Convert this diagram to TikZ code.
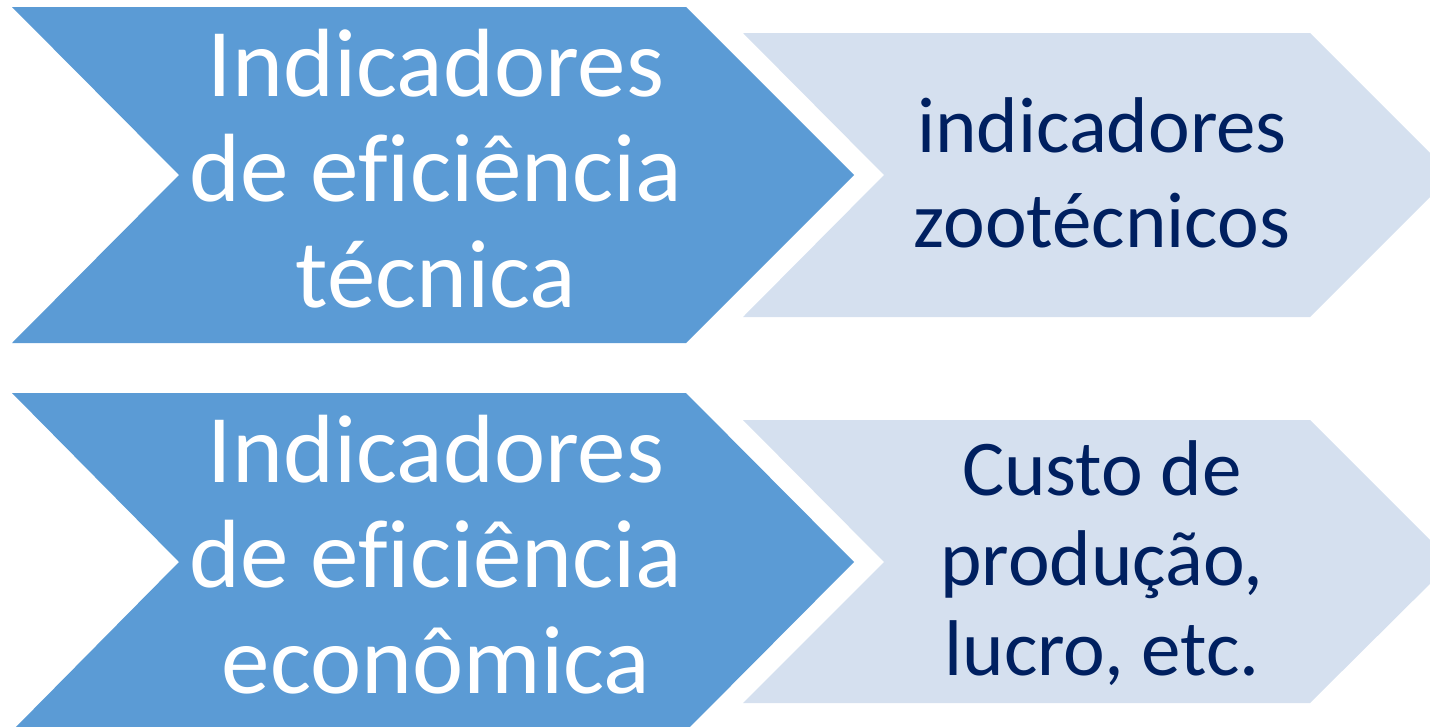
\documentclass[tikz,border=0pt]{standalone}
\usepackage{fontspec}
\setmainfont{Carlito}[Ligatures=NoCommon]
\definecolor{chevblue}{HTML}{5B9BD5}
\definecolor{chevlight}{HTML}{D5E0EF}
\definecolor{textnavy}{HTML}{002060}
\tikzset{
  bluechev/.style={fill=chevblue},
  lightchev/.style={fill=chevlight},
  bluetext/.style={text=white, align=center, inner sep=0pt, anchor=base, font=\fontsize{97}{105.5}\selectfont},
  navytext/.style={text=textnavy, align=center, inner sep=0pt, anchor=base, font=\fontsize{79}{95}\selectfont},
}
\begin{document}
\begin{tikzpicture}[x=1pt,y=-1pt]
\useasboundingbox (0,0) rectangle (1430,726);
\clip (0,0) rectangle (1430,726);
% row 1
\fill[bluechev] (12,7) -- (686,7) -- (854,175) -- (686,343) -- (12,343) -- (179,175) -- cycle;
\fill[lightchev] (743,33) -- (1310,33) -- (1452,175) -- (1310,317) -- (743,317) -- (884,175) -- cycle;
% row 2
\fill[bluechev] (12,393) -- (686,393) -- (854,562) -- (686,731) -- (12,731) -- (179,562) -- cycle;
\fill[lightchev] (743,420) -- (1310,420) -- (1452,562) -- (1310,703) -- (743,703) -- (884,562) -- cycle;
% texts (base anchor = baseline of last line)
\node[bluetext] (tec) at (436,307) {Indicadores\\de eficiência\\técnica};
\node[navytext] (zoo) at (1102,247) {indicadores\\zootécnicos};
\node[bluetext] (eco) at (436,693) {Indicadores\\de eficiência\\econômica};
\node[navytext, font=\fontsize{79}{90}\selectfont] (cus) at (1102,675) {Custo de\\produção,\\lucro, etc.};
\end{tikzpicture}
\end{document}
